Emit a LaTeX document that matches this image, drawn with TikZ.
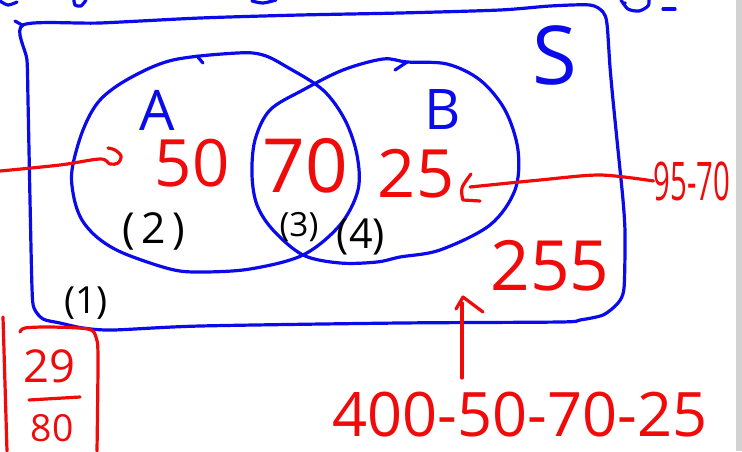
\documentclass[tikz,border=0pt]{standalone}
\usepackage{fontspec}
\setmainfont{Open Sans}
\definecolor{penblue}{RGB}{10,10,235}
\definecolor{penred}{RGB}{240,10,10}
\begin{document}
\begin{tikzpicture}[x=0.75pt,y=-0.75pt,
  bluepen/.style={draw=penblue,line width=2.4pt,line cap=round,line join=round},
  redpen/.style={draw=penred,line width=2.4pt,line cap=round,line join=round},
  lbl/.style={inner sep=0pt,anchor=center},
  fsz/.style={font=\fontsize{#1}{#1}\selectfont},
  bluetxt/.style={lbl,text=penblue},
  redtxt/.style={lbl,text=penred},
  blacktxt/.style={lbl,text=black}]
\useasboundingbox (0,0) rectangle (742,451);
% scrollbar strip
\fill[gray!35] (736,0) rectangle (742,451);

% cut-off scribbles at the top
\draw[bluepen] plot[smooth] coordinates {(0,1) (8,5) (17,2)};
\draw[bluepen] plot[smooth] coordinates {(74,0) (75,5) (81,6) (86,0)};
\draw[bluepen] plot[smooth] coordinates {(252,1) (263,3) (276,0)};
\draw[bluepen] plot[smooth] coordinates {(621,0) (628,9) (639,11) (648,6) (649,0)};
\fill[penblue] (625,3) circle (1.8);
\draw[bluepen] (663,9) -- (675,9);

% universal set S
\draw[bluepen] (15,21) -- (22,25);
\draw[bluepen] plot[smooth cycle,tension=0.45] coordinates {
  (23,25) (100,23) (200,18) (300,15) (400,13) (500,10) (550,6) (590,5) (603,12)
  (607,24) (610,67) (613,100) (618,150) (623,200) (625,233) (624,288) (618,303)
  (603,315) (580,320) (560,322) (400,323) (200,326) (113,330) (83,328) (60,323)
  (43,319) (34,308) (32,288) (30,200) (28,100) (27,60)};

% set A
\draw[bluepen] plot[smooth cycle,tension=0.55] coordinates {
  (72,170) (83,130) (100,100) (130,78) (173,60) (237,53) (263,55) (287,67)
  (323,90) (345,120) (357,155) (358,190) (340,225) (303,255) (250,269)
  (200,272) (170,269) (123,253) (98,238) (82,220) (74,198)};
\draw[bluepen] (197,56) -- (203,63);
% set B
\draw[bluepen] plot[smooth cycle,tension=0.55] coordinates {
  (252,175) (255,140) (270,110) (303,90) (343,70) (383,59) (407,62) (447,64)
  (480,80) (505,110) (518,150) (515,190) (490,225) (440,250) (400,257)
  (377,262) (340,263) (303,255) (273,230) (257,205)};
\draw[bluepen] (395,70) -- (407,62);

% labels
\node[bluetxt,fsz=42] (lA) at (157,110) {A};
\node[bluetxt,fsz=42] (lB) at (443,110) {B};
\node[bluetxt,fsz=61] (lS) at (555,55) {S};

\node[redtxt,fsz=49] (n50) at (192,163) {50};
\node[redtxt,fsz=56] (n70) at (305,166) {70};
\node[redtxt,fsz=50] (n25) at (416,174) {25};
\node[redtxt,fsz=52] (n255) at (550,266) {255};
\node[redtxt,fsz=40] (nDiff) at (692,181) {\scalebox{0.55}[1]{95-70}};
\node[redtxt,fsz=46] (nCalc) at (520,415) {400-50-70-25};
\node[redtxt,fsz=34] (n29) at (49,366) {29};
\node[redtxt,fsz=28] (n80) at (52,428) {80};

\node[blacktxt,fsz=32] (r2) at (154,231) {(\hspace{5pt}2\hspace{5pt})};
\node[blacktxt,fsz=25] (r3) at (299,227) {(3)};
\node[blacktxt,fsz=31] (r4) at (361,237) {(4)};
\node[blacktxt,fsz=28] (r1) at (86,303) {(1)};

% arrow from the left into A
\coordinate (inL) at (0,171);
\coordinate (curlEnd) at (108,148);
\draw[redpen] plot[smooth,tension=0.55] coordinates {
  (inL) (60,165) (100,159) (110,164) (118,163) (121,156) (115,150) (curlEnd)};

% arrow from 95-70 to 25
\coordinate (tip25) at (470,187);
\draw[redpen] plot[smooth,tension=0.5] coordinates {
  (nDiff.west) (600,175) (540,180) (tip25)};
\draw[redpen] plot[smooth,tension=0.6] coordinates {(471,174) (462,188) (463,200)} -- (480,201);

% upward arrow from the calculation to 255
\coordinate (arTop) at (463,297);
\coordinate (arBot) at (462,378);
\draw[redpen] (arBot) -- (462,303);
\draw[redpen] (456,309) -- (arTop) -- (483,312);

% fraction 29/80 with bracket
\draw[redpen] (29,400) -- (80,397);
\draw[redpen] plot[smooth,tension=0.5] coordinates {
  (20,332) (25,328) (50,327) (88,329) (96,337) (98,357) (97,451)};
\draw[redpen] (3,317) -- (7,451);
\end{tikzpicture}
\end{document}
